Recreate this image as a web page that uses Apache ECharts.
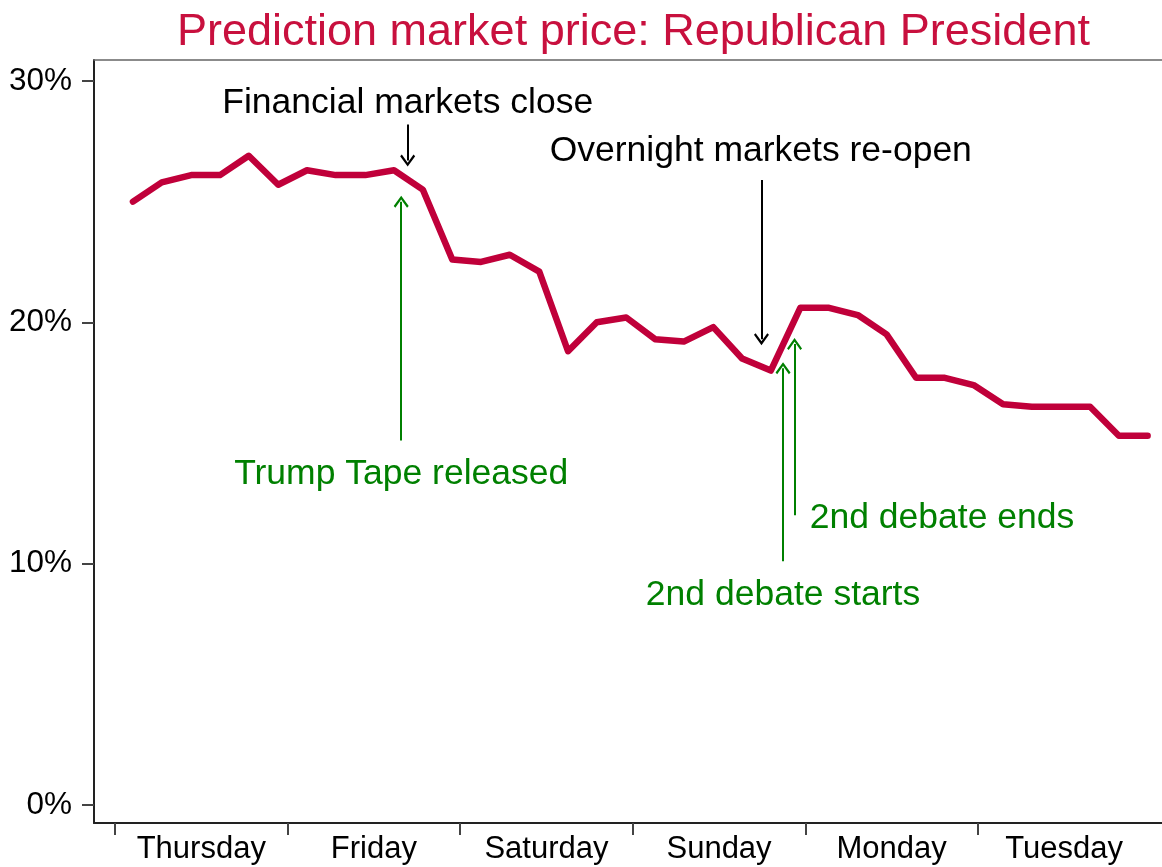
<!DOCTYPE html>
<html>
<head>
<meta charset="utf-8">
<script src="https://cdn.jsdelivr.net/npm/echarts@6/dist/echarts.min.js"></script>
<style>
html,body{margin:0;padding:0;background:#fff;}
#chart{width:1162px;height:867px;}
</style>
</head>
<body>
<div id="chart"></div>
<script>
// Hours since Thursday 00:00
var hours = [2.5, 6.5, 10.6, 14.6, 18.6, 22.7, 26.7, 30.7, 34.8, 38.8, 42.8, 46.9,
  50.9, 54.9, 59.0, 63.0, 67.0, 71.1, 75.1, 79.1, 83.2, 87.2, 91.2, 95.3,
  99.3, 103.3, 107.3, 111.4, 115.4, 119.4, 123.5, 127.5, 131.5, 135.6, 139.6, 143.6];
var price = [25.0, 25.8, 26.1, 26.1, 26.9, 25.7, 26.3, 26.1, 26.1, 26.3, 25.5, 22.6,
  22.5, 22.8, 22.1, 18.8, 20.0, 20.2, 19.3, 19.2, 19.8, 18.5, 18.0, 20.6,
  20.6, 20.3, 19.5, 17.7, 17.7, 17.4, 16.6, 16.5, 16.5, 16.5, 15.3, 15.3];
var dayNames = ['Thursday', 'Friday', 'Saturday', 'Sunday', 'Monday', 'Tuesday'];
var dayTicks = [0, 24, 48, 72, 96, 120];
var dayCenters = [12, 36, 60, 84, 108, 132];
var yTicks = [0, 10, 20, 30];

// Annotation arrows: [x hours, y from %, y to %] (arrow points toward "to")
var blackArrows = [[40.7, 28.2, 26.7], [89.9, 25.9, 19.3]];
var greenArrows = [[39.8, 15.1, 25.0], [92.9, 10.1, 18.1], [94.5, 12.0, 19.1]];
var blackNotes = [['Financial markets close', 40.7, 29.1], ['Overnight markets re-open', 89.8, 27.1]];
var greenNotes = [['Trump Tape released', 39.8, 13.7], ['2nd debate starts', 92.9, 8.7], ['2nd debate ends', 115.0, 11.9]];

var RED = '#C0003A';
var GREEN = '#008000';
var FONT = 'Liberation Sans, Arial, sans-serif';
var chevron = 'path://M0,0 L10,12 L7.8,13.8 L0,4.4 L-7.8,13.8 L-10,12 Z';

var points = hours.map(function (h, i) { return [h, price[i]]; });

function arrowLines(list) {
  return list.map(function (a) {
    return [{ coord: [a[0], a[1]] }, { coord: [a[0], a[2]] }];
  });
}
function notePoints(list) {
  return list.map(function (n) {
    return { name: n[0], coord: [n[1], n[2]] };
  });
}

var chart = echarts.init(document.getElementById('chart'));
chart.setOption({
  animation: false,
  backgroundColor: '#fff',
  title: {
    text: 'Prediction market price: Republican President',
    left: 172,
    top: 5,
    textStyle: { color: '#C8103E', fontFamily: FONT, fontWeight: 'normal', fontSize: 45 }
  },
  grid: { left: 94, right: 0, top: 60, bottom: 44 },
  xAxis: [{
    type: 'value',
    min: -2.92,
    max: 145.6,
    splitLine: { show: false },
    axisLine: { onZero: false, lineStyle: { color: '#222', width: 2 } },
    axisTick: { customValues: dayTicks, length: 12, lineStyle: { color: '#444', width: 2 } },
    axisLabel: {
      customValues: dayCenters,
      margin: 11,
      color: '#000',
      fontFamily: FONT,
      fontSize: 31,
      formatter: function (v) {
        var i = dayCenters.indexOf(v);
        return i >= 0 ? dayNames[i] : '';
      }
    }
  }, {
    type: 'value',
    position: 'top',
    min: -2.92,
    max: 145.6,
    splitLine: { show: false },
    axisLine: { onZero: false, lineStyle: { color: '#666', width: 1.5 } },
    axisTick: { show: false },
    axisLabel: { show: false }
  }],
  yAxis: {
    type: 'value',
    min: -0.75,
    max: 30.87,
    splitLine: { show: false },
    axisLine: { show: true, onZero: false, lineStyle: { color: '#222', width: 2 } },
    axisTick: { show: true, customValues: yTicks, length: 12, lineStyle: { color: '#444', width: 2 } },
    axisLabel: {
      customValues: yTicks,
      margin: 22,
      color: '#000',
      fontFamily: FONT,
      fontSize: 31.5,
      formatter: function (v) { return v + '%'; }
    }
  },
  series: [{
    type: 'line',
    data: points,
    symbol: 'none',
    lineStyle: { color: RED, width: 6.5, join: 'round', cap: 'round' },
    z: 5
  }, {
    type: 'line',
    data: [],
    markLine: {
      silent: true,
      symbol: ['none', chevron],
      symbolSize: [15, 12],
      label: { show: false },
      lineStyle: { color: '#000', width: 2, type: 'solid' },
      emphasis: { disabled: true },
      data: arrowLines(blackArrows)
    },
    markPoint: {
      silent: true,
      symbol: 'circle',
      symbolSize: 0,
      label: { show: true, position: 'inside', formatter: '{b}', color: '#000', fontFamily: FONT, fontSize: 35.5 },
      data: notePoints(blackNotes)
    }
  }, {
    type: 'line',
    data: [],
    markLine: {
      silent: true,
      symbol: ['none', chevron],
      symbolSize: [15, 12],
      label: { show: false },
      lineStyle: { color: GREEN, width: 2, type: 'solid' },
      emphasis: { disabled: true },
      data: arrowLines(greenArrows)
    },
    markPoint: {
      silent: true,
      symbol: 'circle',
      symbolSize: 0,
      label: { show: true, position: 'inside', formatter: '{b}', color: GREEN, fontFamily: FONT, fontSize: 35.5 },
      data: notePoints(greenNotes)
    }
  }]
});
</script>
</body>
</html>
